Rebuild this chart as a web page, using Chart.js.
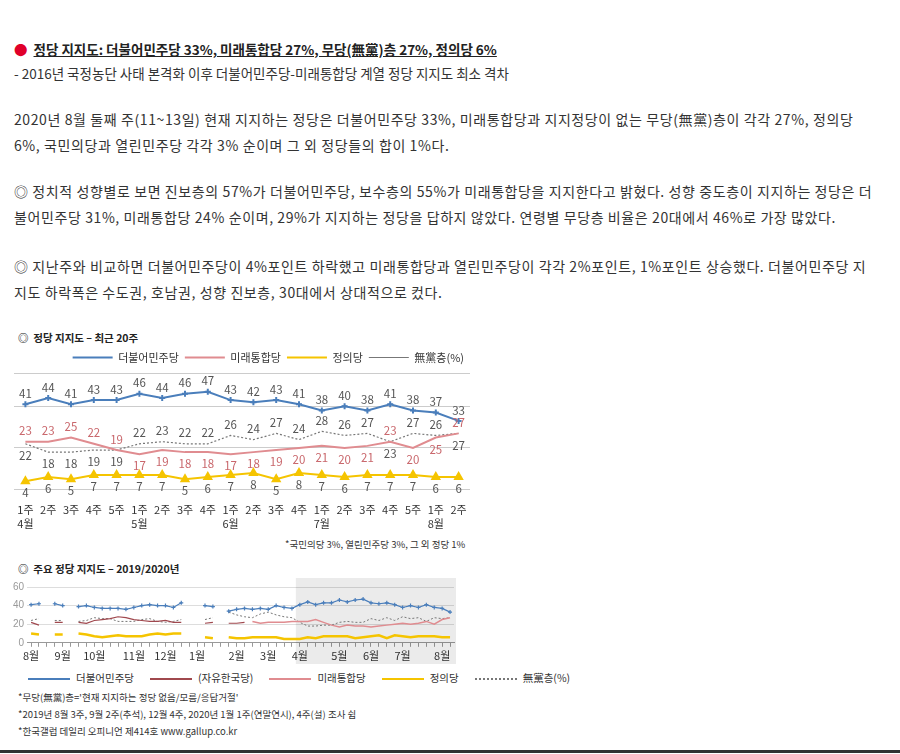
<!DOCTYPE html>
<html><head><meta charset="utf-8">
<script src="https://cdn.jsdelivr.net/npm/chart.js@4"></script>
<style>
body{margin:0;width:900px;height:754px;background:#fff;font-family:"Noto Sans CJK KR","Noto Sans",sans-serif;color:#333;position:relative;overflow:hidden}
.t{position:absolute;left:14px;font-size:14px;line-height:26px;width:862px;letter-spacing:0.6px}
.h{top:36px;font-weight:bold;text-decoration:underline;color:#222;font-size:13.5px;letter-spacing:0}
.h span{color:#e0002a;text-decoration:none;display:inline-block;margin-right:6px}
.s{position:absolute;font-size:10.5px;color:#222;font-weight:bold}
.f{position:absolute;left:18px;font-size:9.5px;color:#333}
.lg{position:absolute;top:670px;left:28px;font-size:10.5px;color:#333;display:flex;gap:16px;align-items:center}
.lg i{display:inline-block;width:42px;height:0;border-top:2px solid;margin-right:6px;vertical-align:middle}
.bot{position:absolute;left:0;top:750px;width:900px;border-top:3px solid #333}
</style></head><body>
<div class="t h"><span>●</span>정당 지지도: 더불어민주당 33%, 미래통합당 27%, 무당(無黨)층 27%, 정의당 6%</div>
<div class="t" style="top:60px;font-size:13.5px;letter-spacing:0">- 2016년 국정농단 사태 본격화 이후 더불어민주당-미래통합당 계열 정당 지지도 최소 격차</div>
<div class="t" style="top:106px">2020년 8월 둘째 주(11~13일) 현재 지지하는 정당은 더불어민주당 33%, 미래통합당과 지지정당이 없는 무당(無黨)층이 각각 27%, 정의당 6%, 국민의당과 열린민주당 각각 3% 순이며 그 외 정당들의 합이 1%다.</div>
<div class="t" style="top:178px">◎ 정치적 성향별로 보면 진보층의 57%가 더불어민주당, 보수층의 55%가 미래통합당을 지지한다고 밝혔다. 성향 중도층이 지지하는 정당은 더불어민주당 31%, 미래통합당 24% 순이며, 29%가 지지하는 정당을 답하지 않았다. 연령별 무당층 비율은 20대에서 46%로 가장 많았다.</div>
<div class="t" style="top:253px">◎ 지난주와 비교하면 더불어민주당이 4%포인트 하락했고 미래통합당과 열린민주당이 각각 2%포인트, 1%포인트 상승했다. 더불어민주당 지지도 하락폭은 수도권, 호남권, 성향 진보층, 30대에서 상대적으로 컸다.</div>

<div class="s" style="left:18px;top:330px">◎ &nbsp;정당 지지도 – 최근 20주</div>
<div style="position:absolute;left:8px;top:346px;width:470px;height:190px"><canvas id="c1"></canvas></div>
<div class="f" style="left:285px;top:537px">*국민의당 3%, 열린민주당 3%, 그 외 정당 1%</div>

<div class="s" style="left:18px;top:561px">◎ &nbsp;주요 정당 지지도 – 2019/2020년</div>
<div style="position:absolute;left:10px;top:578px;width:462px;height:86px"><canvas id="c2"></canvas></div>
<div class="lg">
<span><i style="border-color:#4a7ebb"></i>더불어민주당</span>
<span><i style="border-color:#a0484e"></i>(자유한국당)</span>
<span><i style="border-color:#e08c90"></i>미래통합당</span>
<span><i style="border-color:#f5c400"></i>정의당</span>
<span><i style="border-color:#777;border-top-style:dotted"></i>無黨층(%)</span>
</div>
<div class="f" style="top:690px">*무당(無黨)층='현재 지지하는 정당 없음/모름/응답거절'</div>
<div class="f" style="top:707px">*2019년 8월 3주, 9월 2주(추석), 12월 4주, 2020년 1월 1주(연말연시), 4주(설) 조사 쉼</div>
<div class="f" style="top:724px">*한국갤럽 데일리 오피니언 제414호 www.gallup.co.kr</div>
<div class="bot"></div>

<script>
// 최근 20주
const weeks = [['1주','4월'],'2주','3주','4주','5주',['1주','5월'],'2주','3주','4주',['1주','6월'],'2주','3주','4주',['1주','7월'],'2주','3주','4주','5주',['1주','8월'],'2주'];
const minjoo = [41,44,41,43,43,46,44,46,47,43,42,43,41,38,40,38,41,38,37,33];
const tonghap = [23,23,25,22,19,17,19,18,18,17,18,19,20,21,20,21,23,20,25,27];
const justice = [4,6,5,7,7,7,7,5,6,7,8,5,8,7,6,7,7,7,6,6];
const noParty = [22,18,18,19,19,22,23,22,22,26,24,27,24,28,26,27,23,27,26,27];

// 2019/2020 주간 (2019년 8월 ~ 2020년 3월, 이후는 최근 20주)
const months = ['8월','9월','10월','11월','12월','1월','2월','3월','4월','5월','6월','7월','8월'];
const monthWeeks = [4,4,5,4,4,5,4,4,5,4,4,5,2];
const minjooPrev = [41,42,null,42, 40,null,39,40, 38,37,37,37,36, 38,40,41,40, 40,38,43,null, null,40,39,null,34, 36,37,36,37, 36,40,38,37];
const hankookPrev = [22,19,null,22, 22,null,22,21, 24,25,26,28,27, 25,24,23,23, 24,22,22,null, null,21,22,null,21, 21,22,null,null, null,null,null,null];
const tonghapPrev = [null,null,null,null, null,null,null,null, null,null,null,null,null, null,null,null,null, null,null,null,null, null,null,null,null,null, null,null,23,21, 22,22,22,23];
const justicePrev = [10,9,null,9, 9,null,10,9, 7,6,7,8,7, 7,7,9,10, 9,10,10,null, null,6,5,null,6, 5,5,6,6, 6,6,4,4];
const noPartyPrev = [24,26,null,24, 24,null,23,24, 27,26,26,23,23, 23,25,26,23, 22,23,25,null, null,25,27,null,33, 30,28,27,31, 33,30,28,27];

const BLUE = '#4a7ebb', PINK = '#e08c90', YEL = '#f5c400', GRAY = '#777', RED = '#a0484e';
const font = {family: '"Noto Sans CJK KR", sans-serif', size: 11};

const valueLabels = {
  id: 'valueLabels',
  afterDatasetsDraw(chart) {
    const ctx = chart.ctx;
    ctx.save();
    ctx.font = '11.5px "Noto Sans CJK KR", sans-serif';
    ctx.textAlign = 'center';
    chart.data.datasets.forEach((ds, di) => {
      const meta = chart.getDatasetMeta(di);
      meta.data.forEach((pt, i) => {
        const v = ds.data[i];
        let up;
        if (di === 0) up = true;
        else if (di === 2) up = false;
        else if (di === 1) up = tonghap[i] >= noParty[i];
        else up = noParty[i] > tonghap[i];
        ctx.fillStyle = di === 1 ? '#c9676c' : '#555';
        ctx.textBaseline = up ? 'bottom' : 'top';
        ctx.fillText(v, pt.x, up ? pt.y - 5 : pt.y + 6);
      });
    });
    ctx.restore();
  }
};

new Chart(document.getElementById('c1'), {
  type: 'line',
  data: {
    labels: weeks,
    datasets: [
      {label: '더불어민주당', data: minjoo, borderColor: BLUE, backgroundColor: BLUE, borderWidth: 2, pointStyle: 'cross', pointRadius: 3},
      {label: '미래통합당', data: tonghap, borderColor: PINK, backgroundColor: PINK, borderWidth: 2, pointRadius: 0},
      {label: '정의당', data: justice, borderColor: YEL, backgroundColor: YEL, borderWidth: 2, pointStyle: 'triangle', pointRadius: 4},
      {label: '無黨층(%)', data: noParty, borderColor: GRAY, backgroundColor: GRAY, borderWidth: 1.2, borderDash: [2, 2], pointRadius: 0}
    ]
  },
  options: {
    responsive: true, maintainAspectRatio: false, animation: false,
    layout: {padding: {left: 6, right: 8}},
    plugins: {
      legend: {align: 'end', labels: {boxWidth: 40, boxHeight: 0, font: font, color: '#333', padding: 6}},
      tooltip: {enabled: false}
    },
    scales: {
      x: {offset: true, grid: {display: false}, border: {display: false}, ticks: {font: font, color: '#333', maxRotation: 0, autoSkip: false, padding: 6}},
      y: {min: 0, max: 56, display: true, border: {display: false},
          ticks: {display: false, stepSize: 20},
          grid: {color: '#ccc', drawTicks: false}}
    }
  },
  plugins: [valueLabels]
});

// 두 번째 차트 데이터 조립
const allLabels = [];
months.forEach((m, k) => { for (let w = 0; w < monthWeeks[k]; w++) allLabels.push(w === 0 ? m : ''); });
const shadeFrom = minjooPrev.length;

const shade = {
  id: 'shade',
  beforeDatasetsDraw(chart) {
    const {ctx, chartArea, scales} = chart;
    const x0 = scales.x.getPixelForValue(shadeFrom) - 4;
    ctx.save();
    ctx.fillStyle = 'rgba(0,0,0,0.08)';
    ctx.fillRect(x0, chartArea.top - 10, chartArea.right - x0 + 2, chartArea.bottom - chartArea.top + 40);
    ctx.restore();
  }
};

new Chart(document.getElementById('c2'), {
  type: 'line',
  data: {
    labels: allLabels,
    datasets: [
      {data: minjooPrev.concat(minjoo), borderColor: BLUE, borderWidth: 1.2, pointStyle: 'cross', pointRadius: 2, pointBorderColor: BLUE, spanGaps: false},
      {data: hankookPrev.concat(Array(20).fill(null)), borderColor: RED, borderWidth: 1.2, pointRadius: 0},
      {data: tonghapPrev.concat(tonghap), borderColor: PINK, borderWidth: 1.5, pointRadius: 0},
      {data: justicePrev.concat(justice), borderColor: YEL, borderWidth: 2.5, pointRadius: 0},
      {data: noPartyPrev.concat(noParty), borderColor: GRAY, borderWidth: 1, borderDash: [2, 2], pointRadius: 0}
    ]
  },
  options: {
    responsive: true, maintainAspectRatio: false, animation: false,
    layout: {padding: {right: 18}},
    plugins: {legend: {display: false}, tooltip: {enabled: false}},
    scales: {
      x: {offset: true, grid: {display: true, drawOnChartArea: false, tickLength: 4, color: '#999'}, border: {color: '#999'},
          ticks: {font: font, color: '#333', maxRotation: 0, autoSkip: false, padding: 2}},
      y: {min: 0, max: 60, border: {display: false}, ticks: {stepSize: 20, font: {size: 10}, color: '#999'},
          grid: {color: '#ddd', drawTicks: false}}
    }
  },
  plugins: [shade]
});
</script>
</body></html>
